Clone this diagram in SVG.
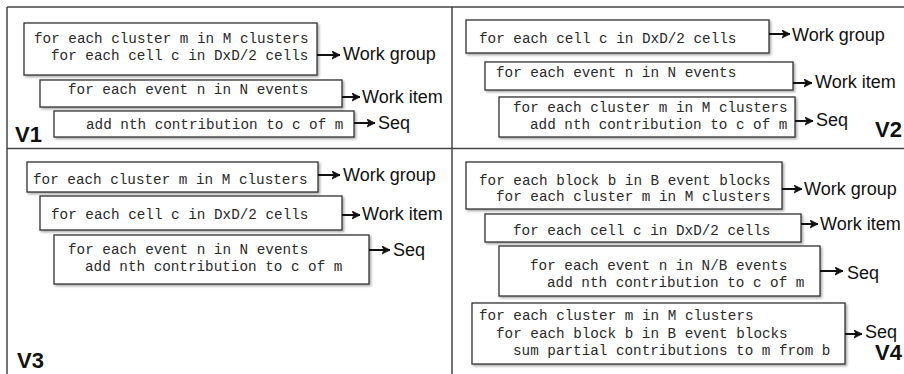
<svg xmlns="http://www.w3.org/2000/svg" width="904" height="374" viewBox="0 0 904 374">
<defs>
<filter id="sh" x="-5%" y="-20%" width="110%" height="150%">
<feDropShadow dx="1.5" dy="1.5" stdDeviation="1" flood-color="#000" flood-opacity="0.35"/>
</filter>
<marker id="ah" markerUnits="userSpaceOnUse" markerWidth="10" markerHeight="10" refX="8" refY="4" orient="auto">
<path d="M0,0 L8,4 L0,8 L2,4 z" fill="#111" stroke="#111" stroke-width="0.8" stroke-linejoin="round"/>
</marker>
<style>
.frame{stroke:#444;stroke-width:1.5;fill:none}
.box{fill:#fff;stroke:#333;stroke-width:1.3;filter:url(#sh)}
.code{font-family:"Liberation Mono","Courier New",monospace;font-size:14.3px;fill:#2a2a2a}
.lbl{font-family:"Liberation Sans",Arial,sans-serif;font-size:18px;fill:#111}
.ver{font-family:"Liberation Sans",Arial,sans-serif;font-size:22px;font-weight:bold;fill:#111}
.arr{stroke:#111;stroke-width:2;fill:none;marker-end:url(#ah)}
</style>
</defs>
<rect width="904" height="374" fill="#fff"/>
<g id="frame" class="frame">
<line x1="7" y1="7" x2="904" y2="7"/>
<line x1="7" y1="7" x2="7" y2="374"/>
<line x1="452" y1="7" x2="452" y2="374"/>
<line x1="7" y1="148.5" x2="904" y2="148.5"/>
</g>
<!-- V1 -->
<g id="v1-b1"><rect class="box" x="24" y="23" width="293" height="52"/>
<text class="code" x="34" y="43">for each cluster m in M clusters</text>
<text class="code" x="51" y="60">for each cell c in DxD/2 cells</text></g>
<g id="v1-b2"><rect class="box" x="40" y="80" width="302" height="27"/>
<text class="code" x="68" y="94">for each event n in N events</text></g>
<g id="v1-b3"><rect class="box" x="54" y="111" width="300" height="26"/>
<text class="code" x="86" y="129">add nth contribution to c of m</text></g>
<g id="v1-l1"><text class="lbl" x="343" y="60">Work group</text></g>
<g id="v1-l2"><text class="lbl" x="362" y="103">Work item</text></g>
<g id="v1-l3"><text class="lbl" x="378" y="129">Seq</text></g>
<text class="ver" x="15" y="142">V1</text>
<!-- V2 -->
<g id="v2-b1"><rect class="box" x="466" y="20" width="303" height="33"/>
<text class="code" x="479" y="43">for each cell c in DxD/2 cells</text></g>
<g id="v2-b2"><rect class="box" x="485" y="62" width="308" height="28"/>
<text class="code" x="496" y="77">for each event n in N events</text></g>
<g id="v2-b3"><rect class="box" x="499" y="97" width="296" height="40"/>
<text class="code" x="513" y="112">for each cluster m in M clusters</text>
<text class="code" x="530" y="129">add nth contribution to c of m</text></g>
<g id="v2-l1"><text class="lbl" x="792" y="41">Work group</text></g>
<g id="v2-l2"><text class="lbl" x="815" y="88">Work item</text></g>
<g id="v2-l3"><text class="lbl" x="816" y="126">Seq</text></g>
<text class="ver" x="875" y="137">V2</text>
<!-- V3 -->
<g id="v3-b1"><rect class="box" x="27" y="162" width="291" height="30"/>
<text class="code" x="33" y="184">for each cluster m in M clusters</text></g>
<g id="v3-b2"><rect class="box" x="40" y="196" width="302" height="34"/>
<text class="code" x="51" y="219">for each cell c in DxD/2 cells</text></g>
<g id="v3-b3"><rect class="box" x="54" y="235" width="315" height="49"/>
<text class="code" x="68" y="254">for each event n in N events</text>
<text class="code" x="85" y="271">add nth contribution to c of m</text></g>
<g id="v3-l1"><text class="lbl" x="343" y="181">Work group</text></g>
<g id="v3-l2"><text class="lbl" x="362" y="220">Work item</text></g>
<g id="v3-l3"><text class="lbl" x="393" y="256">Seq</text></g>
<text class="ver" x="17" y="368">V3</text>
<!-- V4 -->
<g id="v4-b1"><rect class="box" x="466" y="162" width="316" height="47"/>
<text class="code" x="479" y="185">for each block b in B event blocks</text>
<text class="code" x="496" y="201">for each cluster m in M clusters</text></g>
<g id="v4-b2"><rect class="box" x="485" y="214" width="316" height="28"/>
<text class="code" x="513" y="235">for each cell c in DxD/2 cells</text></g>
<g id="v4-b3"><rect class="box" x="499" y="246" width="321" height="50"/>
<text class="code" x="530" y="270">for each event n in N/B events</text>
<text class="code" x="547" y="287">add nth contribution to c of m</text></g>
<g id="v4-b4"><rect class="box" x="472" y="303" width="373" height="61"/>
<text class="code" x="479" y="320">for each cluster m in M clusters</text>
<text class="code" x="496" y="338">for each block b in B event blocks</text>
<text class="code" x="513" y="355">sum partial contributions to m from b</text></g>
<g id="v4-l1"><text class="lbl" x="804" y="195">Work group</text></g>
<g id="v4-l2"><text class="lbl" x="820" y="230">Work item</text></g>
<g id="v4-l3"><text class="lbl" x="847" y="279">Seq</text></g>
<g id="v4-l4"><text class="lbl" x="865" y="338">Seq</text></g>
<text class="ver" x="875" y="360">V4</text>
<g id="connectors" class="arr">
<line x1="317" y1="55" x2="340" y2="55"/>
<line x1="342" y1="97" x2="360" y2="97"/>
<line x1="354" y1="123" x2="375" y2="123"/>
<line x1="769" y1="34" x2="790" y2="34"/>
<line x1="793" y1="83" x2="812" y2="83"/>
<line x1="795" y1="121" x2="813" y2="121"/>
<line x1="318" y1="175" x2="340" y2="175"/>
<line x1="342" y1="215" x2="360" y2="215"/>
<line x1="369" y1="250" x2="390" y2="250"/>
<line x1="782" y1="189" x2="802" y2="189"/>
<line x1="801" y1="224" x2="818" y2="224"/>
<line x1="820" y1="271" x2="843" y2="271"/>
<line x1="845" y1="334" x2="862" y2="334"/>
</g>
</svg>
